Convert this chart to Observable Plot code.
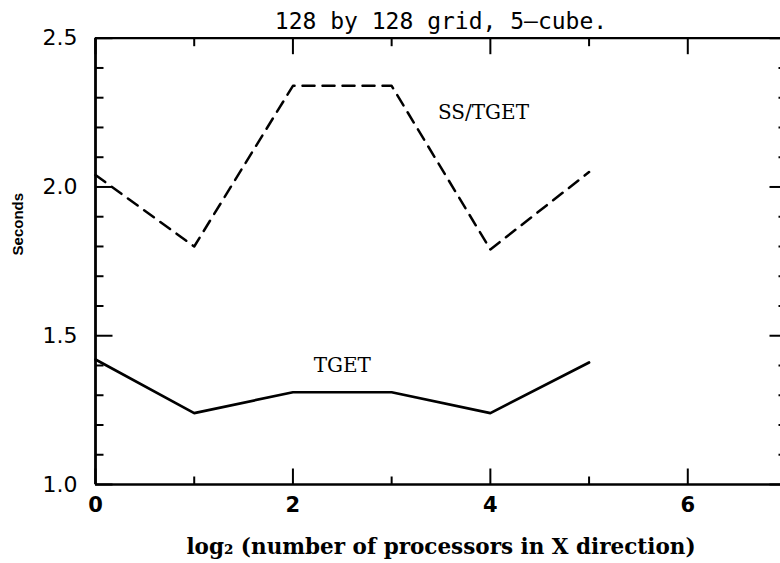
<!DOCTYPE html>
<html><head><meta charset="utf-8">
<script src="https://cdn.jsdelivr.net/npm/d3@7"></script>
<script src="https://cdn.jsdelivr.net/npm/@observablehq/plot@0.6"></script>
<style>body{margin:0;background:#fff} svg{display:block}</style>
</head><body><div id="chart"></div>
<script>
// ---- data ----
const xs = [0, 1, 2, 3, 4, 5];
const ssTget = [2.04, 1.80, 2.34, 2.34, 1.79, 2.05];
const tget = [1.42, 1.24, 1.31, 1.31, 1.24, 1.41];
const xMajorTicks = [0, 2, 4, 6];
const xMinorTicks = [1, 3, 5];
const yMajorTicks = [1.0, 1.5, 2.0, 2.5];
const yMinorTicks = [1.1, 1.2, 1.3, 1.4, 1.6, 1.7, 1.8, 1.9, 2.1, 2.2, 2.3, 2.4];
const xTickLabels = ["0", "2", "4", "6"];
const yTickLabels = ["1.0", "1.5", "2.0", "2.5"];
const seriesNames = ["SS/TGET", "TGET"];
const titleText = "128 by 128 grid, 5\u2013cube.";
const xLabel = "log\u2082 (number of processors in X direction)";
const yLabel = "Seconds";

const rows = xs.map((x, i) => ({x, ss: ssTget[i], tget: tget[i]}));
const labelAnchors = [{name: seriesNames[0], x: 3.93, y: 2.25}, {name: seriesNames[1], x: 2.5, y: 1.40}];

const tick = (dx, dy) => ({draw(ctx) { ctx.moveTo(0, 0); ctx.lineTo(dx, dy); }});
const tickStyle = {stroke: "black", fill: "none", strokeWidth: 2, r: 3};
const xMin = 0, xMax = 7, yMin = 1, yMax = 2.5;

const chart = Plot.plot({
  width: 780, height: 563,
  marginLeft: 0, marginRight: 0, marginTop: 0, marginBottom: 0,
  x: {domain: [xMin, xMax], range: [95, 786], axis: null},
  y: {domain: [yMin, yMax], range: [484, 37.7], axis: null},
  style: {background: "white"},
  marks: [
    // frame
    Plot.ruleY([yMin], {x1: xMin, x2: xMax, stroke: "black", strokeWidth: 2.6}),
    Plot.ruleY([yMax], {x1: xMin, x2: xMax, stroke: "black", strokeWidth: 2.2}),
    Plot.ruleX([xMin], {y1: yMin, y2: yMax, stroke: "black", strokeWidth: 2.8}),
    Plot.ruleX([xMax], {y1: yMin, y2: yMax, stroke: "black", strokeWidth: 2.2}),
    // bottom ticks
    Plot.dot(xMajorTicks, {x: d => d, y: yMin, symbol: tick(0, -16), ...tickStyle}),
    Plot.dot(xMinorTicks, {x: d => d, y: yMin, symbol: tick(0, -8), ...tickStyle}),
    // top ticks
    Plot.dot(xMajorTicks, {x: d => d, y: yMax, symbol: tick(0, 16), ...tickStyle}),
    Plot.dot(xMinorTicks, {x: d => d, y: yMax, symbol: tick(0, 8), ...tickStyle}),
    // left ticks
    Plot.dot(yMajorTicks, {x: xMin, y: d => d, symbol: tick(17, 0), ...tickStyle}),
    Plot.dot(yMinorTicks, {x: xMin, y: d => d, symbol: tick(8, 0), ...tickStyle}),
    // right ticks
    Plot.dot(yMajorTicks, {x: xMax, y: d => d, symbol: tick(-17, 0), ...tickStyle}),
    Plot.dot(yMinorTicks, {x: xMax, y: d => d, symbol: tick(-8, 0), ...tickStyle}),
    // tick labels
    Plot.text(xMajorTicks, {x: d => d, y: yMin, text: (d, i) => xTickLabels[i], dy: 21,
      fontFamily: "DejaVu Sans", fontSize: 21, fontWeight: "bold", fill: "black"}),
    Plot.text(yMajorTicks, {x: xMin, y: d => d, text: (d, i) => yTickLabels[i], dx: -18, textAnchor: "end",
      fontFamily: "DejaVu Sans", fontSize: 22, letterSpacing: 1.5, fill: "black"}),
    // data lines
    Plot.line(rows, {x: "x", y: "ss", stroke: "black", strokeWidth: 2.5, strokeDasharray: "12 8"}),
    Plot.line(rows, {x: "x", y: "tget", stroke: "black", strokeWidth: 2.7}),
    // series labels
    Plot.text(labelAnchors, {x: "x", y: "y", text: "name", fontFamily: "DejaVu Serif", fontSize: 20, fill: "black"}),
    // title
    Plot.text([titleText], {x: (xMin + xMax) / 2, y: yMax, dy: -17, text: d => d,
      fontFamily: "DejaVu Sans Mono", fontSize: 23, letterSpacing: 1, fill: "black"}),
    // axis labels
    Plot.text([xLabel], {x: (xMin + xMax) / 2, y: yMin, dy: 63, text: d => d,
      fontFamily: "DejaVu Serif", fontSize: 21.5, fontWeight: "bold", fill: "black"}),
    Plot.text([yLabel], {x: xMin, y: 1.875, dx: -77, rotate: -90, text: d => d,
      fontFamily: "Liberation Sans", fontSize: 15, fontWeight: "bold", fill: "black"})
  ]
});
document.getElementById("chart").append(chart);
</script>
</body></html>
